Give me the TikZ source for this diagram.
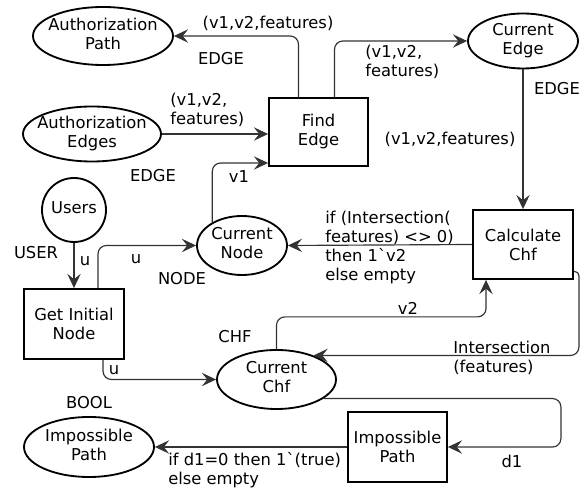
\documentclass[tikz,border=0pt]{standalone}
\usepackage{fontspec}
\setmainfont{DejaVu Sans}
\usetikzlibrary{arrows.meta,calc,shapes.geometric}
% zero-width centred block, so the shape size is set by minimum width/height only
\newcommand{\zw}[1]{\makebox[0pt]{\begin{tabular}{@{}c@{}}#1\end{tabular}}}
\begin{document}
\begin{tikzpicture}[x=0.6pt,y=-0.6pt,
  font=\fontsize{9.8}{11.4}\selectfont,
  place/.style={ellipse,draw,line width=1.1pt,inner sep=0pt},
  trans/.style={rectangle,draw,line width=1.1pt,inner sep=0pt,align=center},
  flow/.style={draw=black!80,line width=0.7pt,rounded corners=5pt,
    -{Stealth[length=8.5pt,width=8pt,inset=3.2pt]}},
  lbl/.style={inner sep=0pt,align=left}]
\useasboundingbox (0,0) rectangle (587,490);

% places
\node[place,minimum width=84pt,minimum height=34.8pt] (ap) at (103,36) {\zw{Authorization\\Path}};
\node[place,minimum width=82.8pt,minimum height=33pt] (ae) at (92,134) {\zw{Authorization\\Edges}};
\node[place,circle,minimum size=38.4pt] (users) at (74,210) {\zw{Users}};
\node[place,minimum width=66pt,minimum height=33pt] (ce) at (523,41) {\zw{Current\\Edge}};
\node[place,minimum width=54pt,minimum height=35.4pt] (cn) at (242,245.5) {\zw{Current\\Node}};
\node[place,minimum width=71.4pt,minimum height=35.4pt] (ch) at (276.5,379.5) {\zw{Current\\Chf}};
\node[place,minimum width=78pt,minimum height=36pt] (ipe) at (89,447) {\zw{Impossible\\Path}};

% transitions
\node[trans,minimum width=59.4pt,minimum height=40.8pt] (fe) at (318.5,132) {Find\\Edge};
\node[trans,minimum width=60pt,minimum height=41.4pt] (cc) at (523,244.5) {Calculate\\Chf};
\node[trans,minimum width=60pt,minimum height=42pt] (gi) at (74,324) {Get Initial\\Node};
\node[trans,minimum width=59.4pt,minimum height=42pt] (ipb) at (397.5,447) {Impossible\\Path};

% arcs
\draw[flow] ($(fe.north)+(-20,0)$) |- (ap.east);
\draw[flow] ($(fe.north)+(16,0)$) |- (ce.west);
\draw[flow] (ae.east) -- (ae.east -| fe.west);
\draw[flow] (cn.142) |- ($(fe.west)+(0,31)$);
\draw[flow] (ce.south) -- (cc.north);
\draw[flow] (cc.west) -- (cn.east);
\draw[flow] (users.south) -- (gi.north);
\draw[flow] ($(gi.north)+(24,0)$) |- (cn.west);
\draw[flow] ($(gi.south)+(29,0)$) |- (ch.west);
\draw[flow] (ch.north) |- ($(cc.south)+(-37,37)$) -- ($(cc.south)+(-37,0)$);
\draw[flow,rounded corners=2.5pt] ($(cc.east)+(0,27)$) -- ++(5,0)
  [rounded corners=5pt] |- (ch.33);
\draw[flow] (ch.-22) -| ($(ipb.east)+(113,0)$) -- (ipb.east);
\draw[flow] (ipb.west) -- (ipe.east);

% inscriptions and colour sets
\node[lbl] (l1) at (268,23) {(v1,v2,features)};
\node[lbl] (l2) at (221,59) {EDGE};
\node[lbl,anchor=west] (l3) at (365,62) {(v1,v2,\\features)};
\node[lbl,anchor=west] (l4) at (170,110) {(v1,v2,\\features)};
\node[lbl] (l5) at (153,176) {EDGE};
\node[lbl] (l6) at (239,177) {v1};
\node[lbl] (l7) at (557,89) {EDGE};
\node[lbl] (l8) at (450,139) {(v1,v2,features)};
\node[lbl,anchor=west] (l9) at (325,247.5) {if (Intersection(\\features) <> 0)\\then 1\textasciigrave v2\\else empty};
\node[lbl] (l10) at (36,253) {USER};
\node[lbl] (l11) at (85,261) {u};
\node[lbl] (l12) at (136,259) {u};
\node[lbl] (l13) at (182,279) {NODE};
\node[lbl] (l14) at (408,308) {v2};
\node[lbl] (l15) at (235,336.5) {CHF};
\node[lbl,anchor=west] (l16) at (453,357.5) {Intersection\\(features)};
\node[lbl] (l17) at (114,370) {u};
\node[lbl] (l18) at (89,402.5) {BOOL};
\node[lbl] (l19) at (512,461) {d1};
\node[lbl,anchor=west] (l20) at (168,470.5) {if d1=0 then 1\textasciigrave(true)\\else empty};
\end{tikzpicture}
\end{document}
